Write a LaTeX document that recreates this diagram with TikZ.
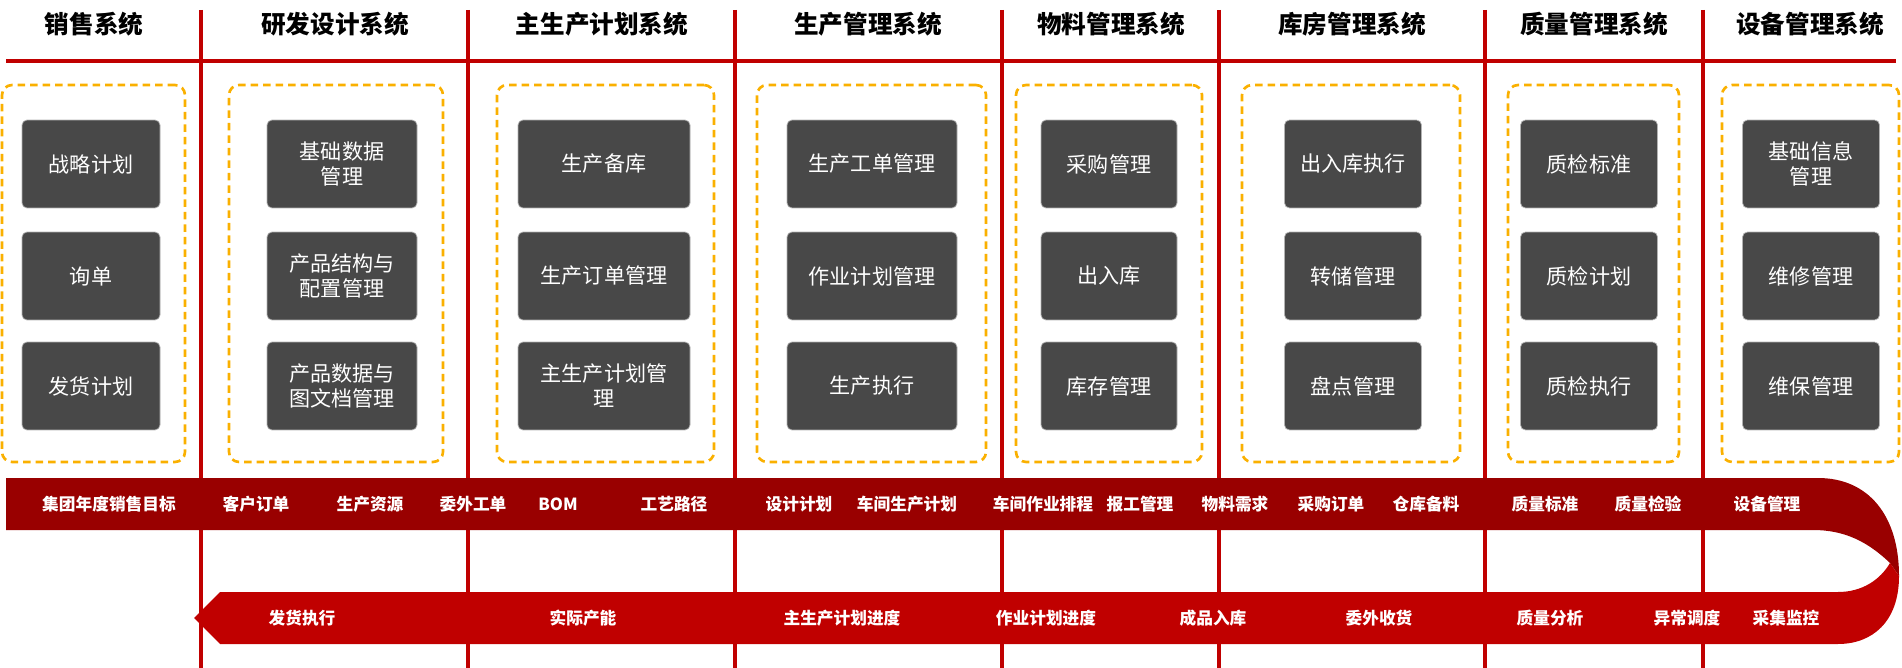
\documentclass[tikz,border=0pt]{standalone}
\usepackage{fontspec}
\setmainfont{Noto Sans CJK SC}
\usepackage{tikz}
\usetikzlibrary{positioning}
\definecolor{myred}{RGB}{192,0,0}
\definecolor{mydarkred}{RGB}{153,0,0}
\definecolor{mygray}{RGB}{72,72,72}
\definecolor{myorange}{RGB}{250,176,0}

\begin{document}
\begin{tikzpicture}[x=0.02cm,y=-0.02cm,
          sysnode/.style={font=\fontsize{14pt}{16pt}\selectfont\bfseries,text=black,inner sep=1pt},
          grpnode/.style={draw=myorange,line width=1.5pt,dash pattern=on 0.15cm off 0.1cm,rounded corners=0.2cm,minimum height=7.54cm,inner sep=0pt},
          modnode/.style={fill=mygray,draw=gray!60,line width=0.4pt,rounded corners=0.1cm,minimum height=1.76cm,inner sep=0pt,text=white,align=center,font=\fontsize{12pt}{14.2pt}\selectfont},
          flownode/.style={text=white,font=\fontsize{9.5pt}{11pt}\selectfont\bfseries,inner sep=1pt},
          sepline/.style={myred,line width=0.09cm}
          ]
          \useasboundingbox (0,0) rectangle (1902,668);
          % the lanes
          \draw[sepline] (6,61) -- (1896,61);
          \foreach \x in {201,468,735,1002,1219,1485,1703}
            \draw[sepline] (\x,10) -- (\x,668);
          % the system titles and their dashed groups
          \foreach \c/\hx/\t/\gx/\gw in {1/94/销售系统/93.5/183, 2/335/研发设计系统/336/214,
              3/602/主生产计划系统/605.5/217, 4/868/生产管理系统/871.5/229,
              5/1111/物料管理系统/1109/186, 6/1352/库房管理系统/1351/218,
              7/1594/质量管理系统/1593.5/171, 8/1810/设备管理系统/1810.5/177}
          {
            \node[sysnode] (sys\c) at (\hx,24) {\t};
            \node[grpnode,minimum width=\gw*0.02cm] (grp\c) at (\gx,273.5) {};
          }
          % the modules
          \foreach \c/\bx/\bw/\ta/\tb/\tc in {1/91/138/战略计划/询单/发货计划,
              2/342/150/{基础数据\\管理}/{产品结构与\\配置管理}/{产品数据与\\图文档管理},
              3/604/172/生产备库/生产订单管理/{主生产计划管\\理},
              4/872/170/生产工单管理/作业计划管理/生产执行,
              5/1109/136/采购管理/出入库/库存管理,
              6/1353/137/出入库执行/转储管理/盘点管理,
              7/1589/137/质检标准/质检计划/质检执行,
              8/1811/137/{基础信息\\管理}/维修管理/维保管理}
          {
            \node[modnode,minimum width=\bw*0.02cm] (mod\c a) at (\bx,164) {\ta};
            \node[modnode,minimum width=\bw*0.02cm] (mod\c b) at (\bx,276) {\tb};
            \node[modnode,minimum width=\bw*0.02cm] (mod\c c) at (\bx,386) {\tc};
          }
          % the ribbon, going right then back
          \fill[mydarkred] (6,478) -- (1818,478) .. controls (1868,478) and (1899,515) .. (1899,576)
            -- (1890,563) .. controls (1868,542) and (1845,530) .. (1813,530) -- (6,530) -- cycle;
          \fill[myred] (220,592) -- (1838,592) .. controls (1862,592) and (1880,580) .. (1890,563)
            -- (1899,576) .. controls (1899,622) and (1872,644) .. (1838,644) -- (220,644) -- (194,618) -- cycle;
          % the flow going right
          \foreach \i/\x/\t in {1/109/集团年度销售目标, 2/256/客户订单, 3/370/生产资源, 4/473/委外工单,
              5/558/BOM, 6/674/工艺路径, 7/799/设计计划, 8/907/车间生产计划, 9/1043/车间作业排程,
              10/1140/报工管理, 11/1235/物料需求, 12/1331/采购订单, 13/1426/仓库备料,
              14/1545/质量标准, 15/1648/质量检验, 16/1767/设备管理}
            \node[flownode] (up\i) at (\x,504) {\t};
          % the flow coming back
          \foreach \i/\x/\t in {1/302/发货执行, 2/583/实际产能, 3/842/主生产计划进度, 4/1046/作业计划进度,
              5/1213/成品入库, 6/1379/委外收货, 7/1550/质量分析, 8/1687/异常调度, 9/1786/采集监控}
            \node[flownode] (down\i) at (\x,618) {\t};
        \end{tikzpicture}
\end{document}
